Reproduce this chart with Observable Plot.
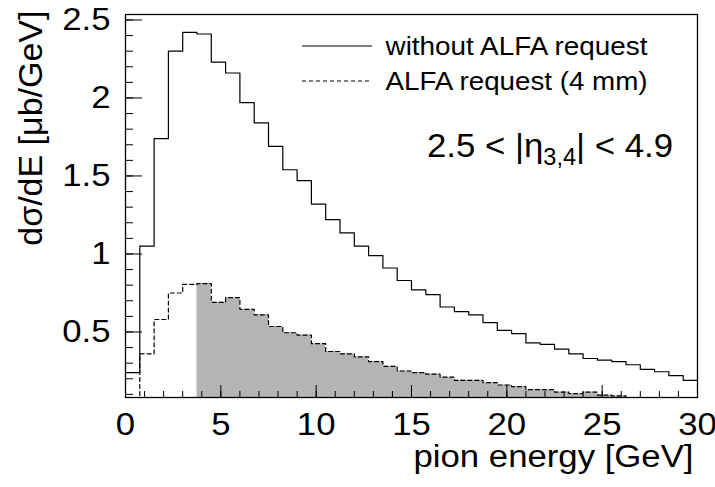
<!DOCTYPE html>
<html>
<head>
<meta charset="utf-8">
<script src="https://cdn.jsdelivr.net/npm/d3@7"></script>
<script src="https://cdn.jsdelivr.net/npm/@observablehq/plot@0.6"></script>
<style>
  html, body { margin: 0; padding: 0; background: white; }
  #chart svg { display: block; }
</style>
</head>
<body>
<div id="chart"></div>
<script>
// ---- data ----
const binWidth = 0.75;            // GeV, 40 bins from 0 to 30
const cutEnergy = 3.75;           // shaded region starts here
const withoutALFA = [0.24, 1.05, 1.74, 2.30, 2.42, 2.41, 2.23, 2.16, 1.97, 1.84,
                     1.69, 1.54, 1.47, 1.32, 1.22, 1.135, 1.05, 0.99, 0.91, 0.83,
                     0.77, 0.74, 0.66, 0.63, 0.61, 0.56, 0.51, 0.49, 0.43, 0.42,
                     0.39, 0.36, 0.33, 0.32, 0.31, 0.29, 0.26, 0.245, 0.22, 0.19];
const alfa4mm = [0.05, 0.36, 0.58, 0.75, 0.805, 0.81, 0.69, 0.72, 0.645, 0.61,
                 0.535, 0.495, 0.48, 0.425, 0.375, 0.36, 0.34, 0.31, 0.28, 0.25,
                 0.24, 0.23, 0.21, 0.19, 0.19, 0.175, 0.16, 0.15, 0.13, 0.13,
                 0.115, 0.105, 0.115, 0.095, 0.09, 0.08, 0.075, 0.07, 0.06, 0.05];
const xMajor = [0, 5, 10, 15, 20, 25, 30];
const xMinor = d3.range(0, 31, 1);
const yMajor = [0.5, 1, 1.5, 2, 2.5];
const yMinor = d3.range(1, 26).map(d => d / 10);
const xDomain = [0, 30];
const yDomain = [0.08, 2.535];
const xTitle = "pion energy [GeV]";
const yTitle = "dσ/dE [μb/GeV]";
const legendLabels = ["without ALFA request", "ALFA request (4 mm)"];
const etaMain1 = "2.5 < |η";
const etaSub = "3,4";
const etaMain2 = "| < 4.9";

// ---- derived step tables ----
const bins = withoutALFA.map((v, i) => ({x1: i * binWidth, x2: (i + 1) * binWidth, without: v, alfa: alfa4mm[i]}));
const stepPts = key => [...bins.map(b => ({x: b.x1, y: b[key]})), {x: bins[bins.length - 1].x2, y: bins[bins.length - 1][key]}];
const shaded = stepPts("alfa").filter(p => p.x >= cutEnergy);

const font = "'Liberation Sans', Arial, Helvetica, sans-serif";

const chart = Plot.plot({
  width: 715,
  height: 487,
  marginLeft: 125,
  marginRight: 18,
  marginTop: 14,
  marginBottom: 90,
  style: {fontFamily: font, background: "white", color: "black"},
  x: {domain: xDomain, label: null},
  y: {domain: yDomain, label: null},
  marks: [
    Plot.areaY(shaded, {x: "x", y: "y", curve: "step-after", fill: "#b4b4b4", clip: true}),
    Plot.lineY(stepPts("without"), {x: "x", y: "y", curve: "step-after", stroke: "black", strokeWidth: 1.2, clip: true}),
    Plot.lineY(stepPts("alfa"), {x: "x", y: "y", curve: "step-after", stroke: "black", strokeWidth: 1.2, strokeDasharray: "4,3", clip: true}),
    Plot.axisY({ticks: yMinor, tickSize: -8, tickFormat: () => "", strokeWidth: 1}),
    Plot.axisY({ticks: yMajor, tickSize: -17, tickFormat: () => "", strokeWidth: 1}),
    Plot.axisY({ticks: yMajor, tickSize: 0, tickPadding: 15, fontSize: 31, tickFormat: d => String(d), className: "hlabel"}),
    Plot.axisX({ticks: xMinor, tickSize: -6, tickFormat: () => "", strokeWidth: 1}),
    Plot.axisX({ticks: xMajor, tickSize: 0, tickPadding: 15, fontSize: 31, tickFormat: d => String(d)}),
    Plot.axisX({ticks: xMajor, tickSize: -12, tickFormat: () => "", strokeWidth: 1}),
    Plot.frame({stroke: "black", strokeWidth: 1.3}),
    Plot.text([yTitle], {text: d => d, frameAnchor: "top-left", rotate: -90, textAnchor: "end", lineAnchor: "middle", dx: -94, dy: -4, fontSize: 34}),
    Plot.text([xTitle], {text: d => d, frameAnchor: "bottom-right", textAnchor: "end", lineAnchor: "middle", dx: -4, dy: 60, fontSize: 31}),
    Plot.text(legendLabels, {text: d => d, frameAnchor: "top-left", textAnchor: "start", lineAnchor: "middle", fontSize: 25})
  ]
});
document.getElementById("chart").appendChild(chart);

const svg = d3.select(chart);

// horizontal stretch of text (the reference's lettering is slightly wide)
function stretch(sel, factor) {
  sel.each(function() {
    const len = this.getComputedTextLength();
    if (len > 0) d3.select(this).attr("textLength", len * factor).attr("lengthAdjust", "spacingAndGlyphs");
  });
}
function fitTo(sel, target) {
  sel.attr("textLength", target).attr("lengthAdjust", "spacingAndGlyphs");
}

const textGroups = svg.selectAll("g[aria-label=text]").nodes();
// legend rows (pixel offsets are styling)
const legendRowY = [46, 81];
d3.select(textGroups[2]).selectAll("text")
  .attr("transform", (d, i) => `translate(385,${legendRowY[i]})`)
  .call(fitTo, 262);
// x title
d3.select(textGroups[1]).selectAll("text").call(fitTo, 280);
// tick labels
stretch(svg.selectAll("g[aria-label='x-axis tick label'] text"), 1.12);
stretch(svg.selectAll("g[aria-label='y-axis tick label'] text"), 1.12);

const leg = svg.append("g");
legendRowY.forEach((yy, i) => {
  leg.append("line").attr("x1", 302).attr("x2", 372).attr("y1", yy).attr("y2", yy)
    .attr("stroke", "black").attr("stroke-width", 1)
    .attr("stroke-dasharray", i === 1 ? "4,3" : null);
});

// eta range label with subscript
const eta = svg.append("text").attr("x", 427).attr("y", 157).attr("text-anchor", "start")
  .attr("font-family", font).attr("font-size", 34).attr("fill", "black");
eta.append("tspan").text(etaMain1);
eta.append("tspan").attr("font-size", 23).attr("dy", 8).text(etaSub);
eta.append("tspan").attr("dy", -8).text(etaMain2);
eta.call(fitTo, 246);
</script>
</body>
</html>
